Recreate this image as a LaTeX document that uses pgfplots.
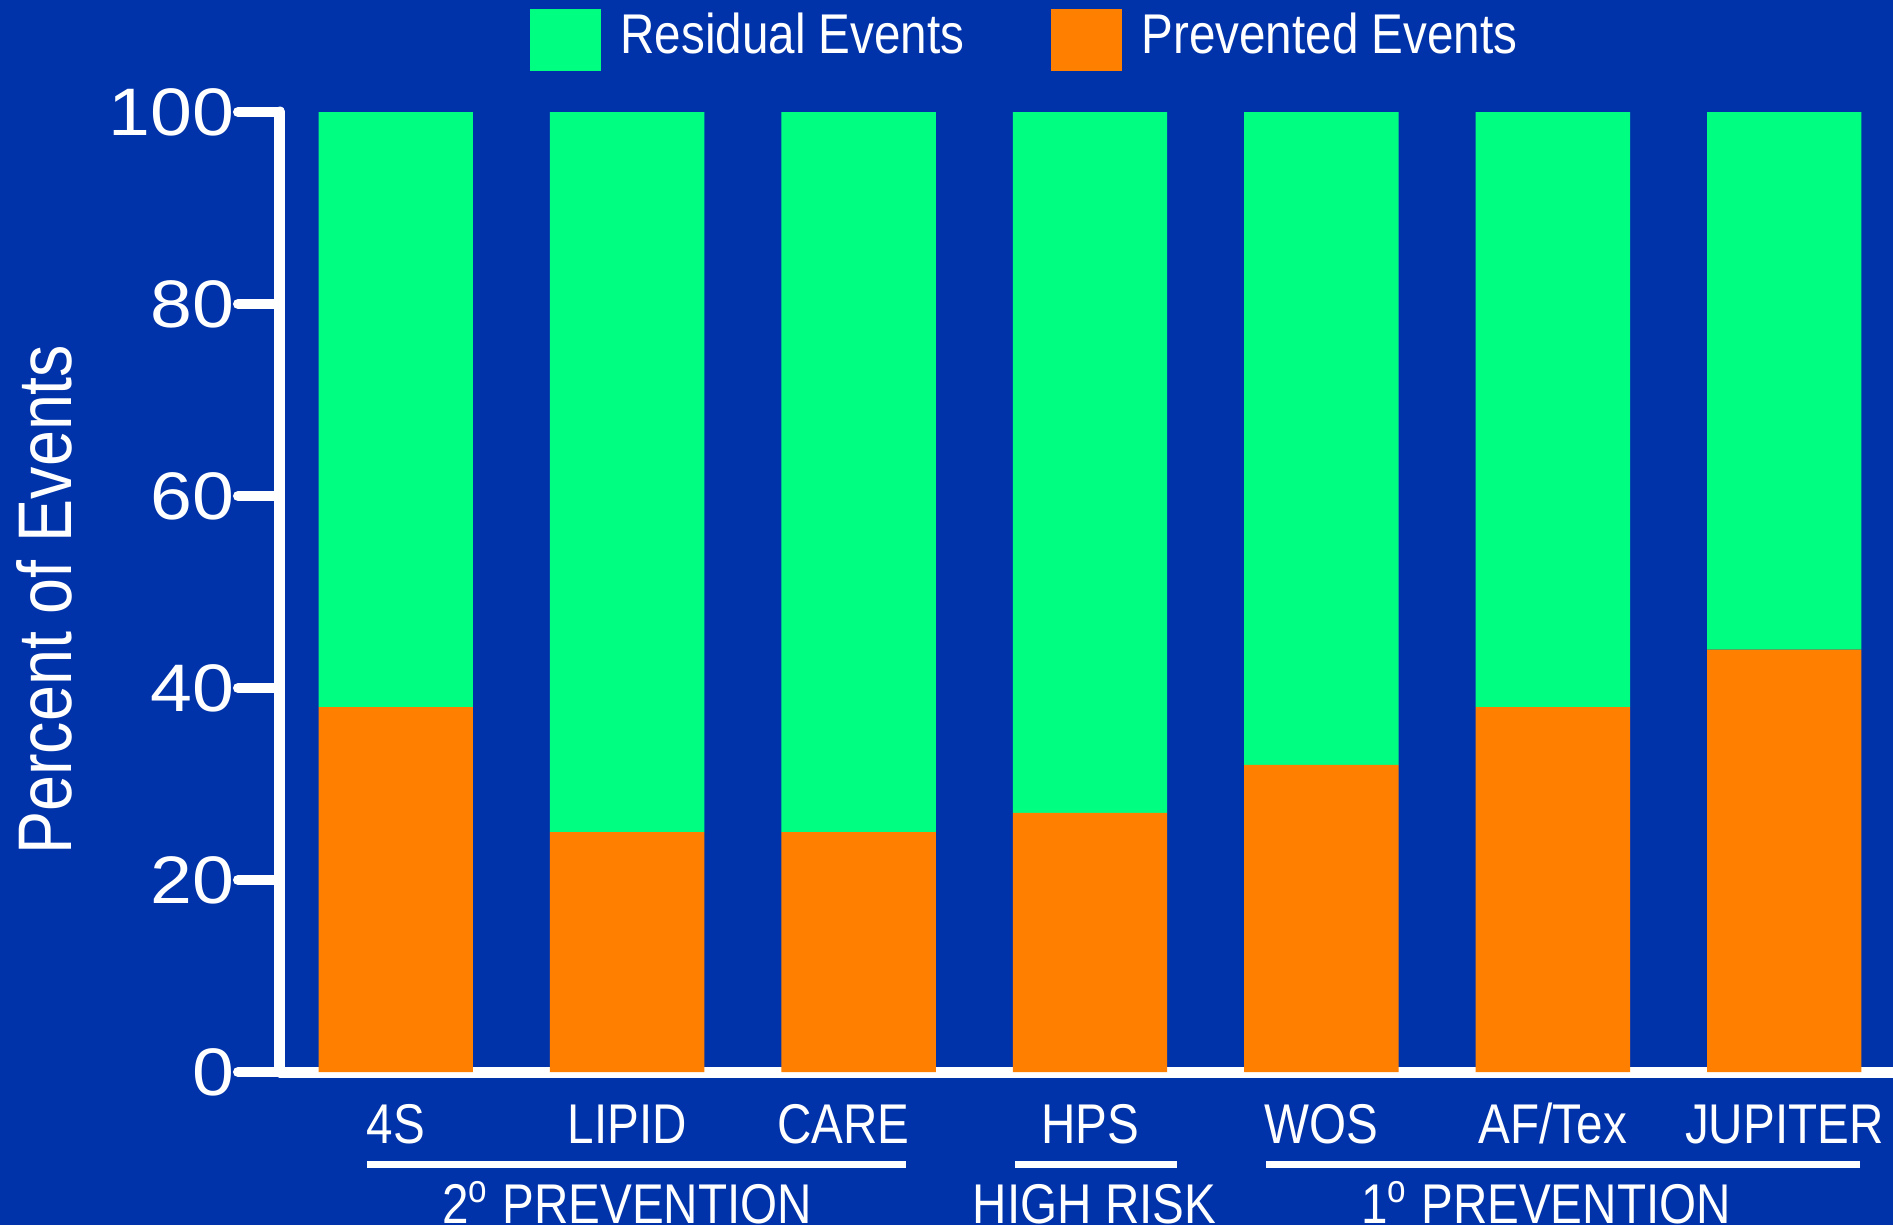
\documentclass[border=0pt]{standalone}
\usepackage{pgfplots}
\pgfplotsset{compat=1.18}
\usepackage{fontspec}
\setmainfont{Liberation Sans}
\newfontfamily\tickfont[FakeStretch=1.12]{Liberation Sans}
\newfontfamily\labfont[FakeStretch=0.85]{Liberation Sans}
\definecolor{bgblue}{RGB}{0,51,170}
\definecolor{resid}{RGB}{0,255,128}
\definecolor{prev}{RGB}{255,128,0}
\begin{document}
\begin{tikzpicture}
\path[use as bounding box, fill=bgblue] (-70pt,-38.25pt) rectangle (403.25pt,268pt);
\begin{axis}[
    scale only axis, width=403.25pt, height=240pt,
    ybar stacked, bar width=38.6pt,
    xmin=-0.5, xmax=6.47, ymin=0, ymax=100,
    axis x line=bottom, axis y line=left,
    axis line style={-, white, line width=2.75pt, line cap=round},
    xtick=data,
    xticklabels={4S, LIPID, CARE\hspace*{7.5pt}, HPS, WOS, AF/Tex, JUPITER},
    xtick style={draw=none},
    xticklabel style={text=white, font=\labfont\fontsize{14}{16}\selectfont, anchor=base, yshift=-7.25pt},
    ytick={0,20,...,100},
    ytick style={white, line width=2.5pt, line cap=round},
    tick align=outside, major tick length=10.5pt,
    yticklabel style={text=white, font=\tickfont\fontsize{16.8}{18}\selectfont, xshift=2.6pt},
    /pgf/number format/assume math mode=true,
    ylabel={Percent of Events},
    ylabel style={text=white, font=\labfont\fontsize{19}{21}\selectfont,
        at={(axis description cs:-0.129,0.492)}, anchor=base},
    clip=false,
    legend columns=2, reverse legend,
    legend style={draw=none, fill=none, text=white,
        font=\labfont\fontsize{14}{16}\selectfont,
        at={(axis cs:0.575,107.75)}, anchor=west, inner sep=0pt,
        /tikz/every even column/.append style={column sep=19.5pt}},
]
\addplot[fill=prev, draw=none,
    legend image code/.code={\fill[prev] (0pt,-8.65pt) rectangle (17.75pt,6.85pt); \path (20.75pt,0pt);}]
    coordinates {(0,38) (1,25) (2,25) (3,27) (4,32) (5,38) (6,44)};
\addlegendentry{Prevented Events}
\addplot[fill=resid, draw=none,
    legend image code/.code={\fill[resid] (0pt,-8.65pt) rectangle (17.75pt,6.85pt); \path (20.75pt,0pt);}]
    coordinates {(0,62) (1,75) (2,75) (3,73) (4,68) (5,62) (6,56)};
\addlegendentry{Residual Events}
% group brackets
\draw[white, line width=1.75pt] (axis cs:-0.125,-9.6) -- (axis cs:2.207,-9.6);
\draw[white, line width=1.75pt] (axis cs:2.676,-9.6) -- (axis cs:3.376,-9.6);
\draw[white, line width=1.75pt] (axis cs:3.762,-9.6) -- (axis cs:6.329,-9.6);
\node[text=white, anchor=base, font=\labfont\fontsize{14}{16}\selectfont] at (axis cs:1,-15.8) {2\textsuperscript{o} PREVENTION};
\node[text=white, anchor=base, font=\labfont\fontsize{14}{16}\selectfont] at (axis cs:3.02,-15.8) {HIGH RISK};
\node[text=white, anchor=base, font=\labfont\fontsize{14}{16}\selectfont] at (axis cs:4.97,-15.8) {1\textsuperscript{o} PREVENTION};
\end{axis}
\end{tikzpicture}
\end{document}
